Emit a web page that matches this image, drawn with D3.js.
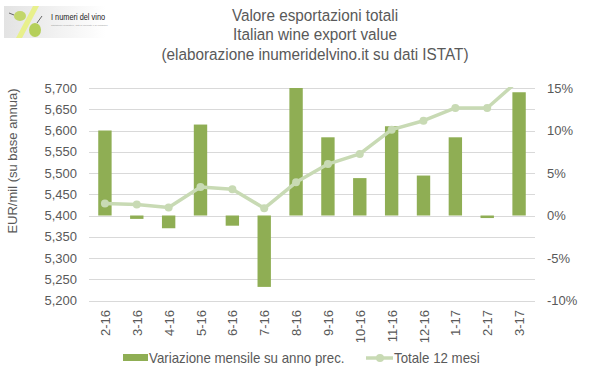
<!DOCTYPE html>
<html>
<head>
<meta charset="utf-8">
<script src="https://cdn.jsdelivr.net/npm/d3@7"></script>
<style>
  body { margin: 0; background: #fff; }
  text { fill: #595959; }
  .narrow { font-family: "Liberation Sans Narrow", "Arial Narrow", "Liberation Sans", sans-serif; }
  .reg { font-family: "Liberation Sans", Arial, sans-serif; }
</style>
</head>
<body>
<div id="graph"></div>
<script>
// months
var months = ["2-16","3-16","4-16","5-16","6-16","7-16","8-16","9-16","10-16","11-16","12-16","1-17","2-17","3-17"];
// monthly change vs previous year, percent (right axis)
var variazione = [10.0, -0.4, -1.5, 10.7, -1.2, -8.4, 15.0, 9.2, 4.4, 10.5, 4.7, 9.2, -0.3, 14.5];
// 12-month total, EUR mil (left axis)
var totale = [5428, 5426, 5419, 5467, 5462, 5417, 5478, 5521, 5545, 5602, 5623, 5653, 5653, 5719];
var leftTicks = [5200,5250,5300,5350,5400,5450,5500,5550,5600,5650,5700];
var rightTicks = [-10,-5,0,5,10,15];
var titleLines = ["Valore esportazioni totali","Italian wine export value","(elaborazione inumeridelvino.it su dati ISTAT)"];

function render() {
  var width = 599, height = 378;
  var pLeft = 89, pRight = 535, pTop = 88, pBottom = 300.5;

  var barColor = "#8fae54";
  var lineColor = "#c8dab4";

  var svg = d3.select("#graph").append("svg")
    .attr("width", width)
    .attr("height", height);

  var x = d3.scaleBand().domain(months).range([pLeft, pRight]).paddingInner(0.58).paddingOuter(0.29);
  var xc = d3.scaleBand().domain(months).range([pLeft, pRight]);
  var yL = d3.scaleLinear().domain([5200, 5700]).range([pBottom, pTop]);
  var yR = d3.scaleLinear().domain([-10, 15]).range([pBottom, pTop]);

  // no narrow font installed: compress horizontally
  function narrowText(g, tx, ty, size, anchor, str, squeeze, color) {
    return g.append("text")
      .attr("class", "narrow")
      .attr("transform", "translate(" + tx + "," + ty + ") scale(" + squeeze + ",1)")
      .attr("text-anchor", anchor)
      .style("font-size", size + "px")
      .style("fill", color || "#595959")
      .text(str);
  }

  // gridlines
  svg.append("g").selectAll("line")
    .data(leftTicks).enter().append("line")
    .attr("x1", pLeft).attr("x2", pRight)
    .attr("y1", function(d){ return Math.round(yL(d)) + 0.5; })
    .attr("y2", function(d){ return Math.round(yL(d)) + 0.5; })
    .attr("stroke", "#d9d9d9").attr("stroke-width", 1);

  // left axis labels
  svg.append("g").selectAll("text")
    .data(leftTicks).enter().append("text")
    .attr("class", "reg")
    .attr("x", 77).attr("y", function(d){ return yL(d); })
    .attr("dy", "0.35em").attr("text-anchor", "end")
    .style("font-size", "13px")
    .text(d3.format(","));

  // right axis labels
  svg.append("g").selectAll("text")
    .data(rightTicks).enter().append("text")
    .attr("class", "reg")
    .attr("x", 547).attr("y", function(d){ return yR(d); })
    .attr("dy", "0.35em").attr("text-anchor", "start")
    .style("font-size", "13px")
    .text(function(d){ return d + "%"; });

  // y title
  svg.append("text")
    .attr("class", "reg")
    .attr("transform", "translate(17,161) rotate(-90)")
    .attr("text-anchor", "middle")
    .style("font-size", "13px")
    .text("EUR/mil  (su base annua)");

  // bars
  svg.append("g").selectAll("rect")
    .data(variazione).enter().append("rect")
    .attr("x", function(d, i){ return x(months[i]); })
    .attr("width", x.bandwidth())
    .attr("y", function(d){ return yR(Math.max(0, d)); })
    .attr("height", function(d){ return Math.abs(yR(d) - yR(0)); })
    .attr("fill", barColor);

  // line, clipped to plot area
  svg.append("clipPath").attr("id", "plot")
    .append("rect").attr("x", pLeft).attr("y", pTop - 1).attr("width", pRight - pLeft).attr("height", pBottom - pTop + 2);

  var cx = function(d, i){ return xc(months[i]) + xc.bandwidth() / 2; };
  var line = d3.line().x(cx).y(function(d){ return yL(d); });

  var lg = svg.append("g").attr("clip-path", "url(#plot)");
  lg.append("path").datum(totale)
    .attr("d", line)
    .attr("fill", "none")
    .attr("stroke", lineColor)
    .attr("stroke-width", 3.5)
    .attr("stroke-linejoin", "round");
  lg.selectAll("circle").data(totale).enter().append("circle")
    .attr("cx", cx)
    .attr("cy", function(d){ return yL(d); })
    .attr("r", 4)
    .attr("fill", lineColor);

  // x labels (rotated)
  svg.append("g").selectAll("text")
    .data(months).enter().append("text")
    .attr("class", "reg")
    .attr("transform", function(d){ return "translate(" + (xc(d) + xc.bandwidth() / 2 + 5) + ",310) rotate(-90)"; })
    .attr("text-anchor", "end")
    .style("font-size", "13px")
    .text(function(d){ return d; });

  // title
  titleLines.forEach(function(t, i){
    narrowText(svg, 315, 21 + i * 19.3, 17, "middle", t, 0.9);
  });

  // legend
  var leg = svg.append("g");
  leg.append("rect").attr("x", 123).attr("y", 354).attr("width", 25).attr("height", 7).attr("fill", barColor);
  narrowText(leg, 149, 362.5, 14, "start", "Variazione mensile su anno prec.", 0.95);
  leg.append("line").attr("x1", 366).attr("x2", 393).attr("y1", 358).attr("y2", 358)
    .attr("stroke", lineColor).attr("stroke-width", 3.5);
  leg.append("circle").attr("cx", 380).attr("cy", 358).attr("r", 4).attr("fill", lineColor);
  narrowText(leg, 394, 362.5, 14, "start", "Totale 12 mesi", 0.95);

  // logo
  var logoGrad = svg.append("defs").append("linearGradient").attr("id", "lgr").attr("x1", 0).attr("x2", 1);
  logoGrad.append("stop").attr("offset", 0).attr("stop-color", "#e3e3e3");
  logoGrad.append("stop").attr("offset", 1).attr("stop-color", "#ffffff");
  var logo = svg.append("g");
  logo.append("rect").attr("x", 4).attr("y", 6).attr("width", 102).attr("height", 32).attr("fill", "url(#lgr)");
  logo.append("path").attr("d", "M22,38 L16,38 L33,6 L39,6 Z").attr("fill", "#e8f08c");
  logo.append("ellipse").attr("cx", 20).attr("cy", 16).attr("rx", 6).attr("ry", 5).attr("fill", "#c2d66a");
  logo.append("ellipse").attr("cx", 35).attr("cy", 30).attr("rx", 6).attr("ry", 7).attr("fill", "#b5cf5a");
  logo.append("line").attr("x1", 9).attr("y1", 13).attr("x2", 14).attr("y2", 15).attr("stroke", "#666").attr("stroke-width", 1);
  logo.append("line").attr("x1", 37).attr("y1", 23).attr("x2", 42).attr("y2", 16).attr("stroke", "#666").attr("stroke-width", 1);
  narrowText(logo, 51, 20, 9, "start", "I numeri del vino", 0.82, "#222");
  logo.append("text").attr("class", "reg").attr("x", 51).attr("y", 26)
    .style("font-size", "2.5px").style("fill", "#999").text("Statistiche produttive, dati di mercato e di consumo");
}

render();
</script>
</body>
</html>
